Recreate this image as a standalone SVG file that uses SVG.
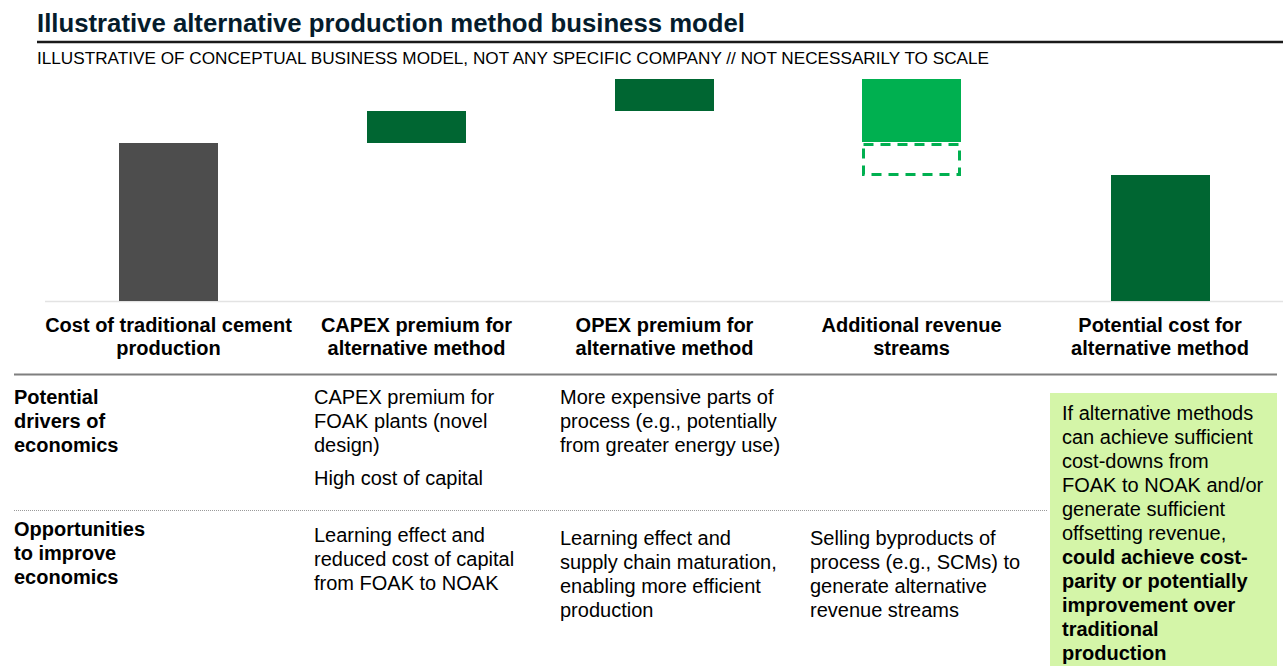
<svg xmlns="http://www.w3.org/2000/svg" width="1283" height="666" viewBox="0 0 1283 666">
<style>
text{font-family:"Liberation Sans",Arial,Helvetica,sans-serif;fill:#000}
.title{font-size:25.7px;font-weight:bold;fill:#051c2c}
.sub{font-size:17px}
.hd{font-size:20px;font-weight:bold;text-anchor:middle}
.rl{font-size:20px;font-weight:bold}
.bd{font-size:20px}
.b{font-weight:bold}
.dk{fill:#006632}
.lt{fill:#00b050}
</style>
<rect width="1283" height="666" fill="#fff"/>
<g id="header">
<text class="title" x="37" y="32" textLength="708" lengthAdjust="spacingAndGlyphs">Illustrative alternative production method business model</text>
<line x1="37" y1="42" x2="1283" y2="42" stroke="#1a1a1a" stroke-width="2.5"/>
<text class="sub" x="37" y="64" textLength="952" lengthAdjust="spacingAndGlyphs">ILLUSTRATIVE OF CONCEPTUAL BUSINESS MODEL, NOT ANY SPECIFIC COMPANY // NOT NECESSARILY TO SCALE</text>
</g>
<g id="chart">
<line x1="45" y1="301.5" x2="1283" y2="301.5" stroke="#e3e3e3" stroke-width="1.5"/>
<g id="bar-traditional"><rect x="119" y="143" width="99" height="158" fill="#4d4d4d"/></g>
<g id="bar-capex"><rect class="dk" x="367" y="111" width="99" height="32"/></g>
<g id="bar-opex"><rect class="dk" x="615" y="79" width="99" height="32"/></g>
<g id="bar-revenue">
<rect class="lt" x="862" y="79" width="99" height="63"/>
<rect x="863.5" y="144.5" width="96" height="30" fill="none" stroke="#00b050" stroke-width="3" stroke-dasharray="10 7"/>
</g>
<g id="bar-potential"><rect class="dk" x="1111" y="175" width="99" height="126"/></g>
</g>
<g id="column-labels">
<text class="hd" x="168.5" y="332">Cost of traditional cement</text>
<text class="hd" x="168.5" y="355">production</text>
<text class="hd" x="416.5" y="332">CAPEX premium for</text>
<text class="hd" x="416.5" y="355">alternative method</text>
<text class="hd" x="664.5" y="332">OPEX premium for</text>
<text class="hd" x="664.5" y="355">alternative method</text>
<text class="hd" x="911.5" y="332">Additional revenue</text>
<text class="hd" x="911.5" y="355">streams</text>
<text class="hd" x="1160" y="332">Potential cost for</text>
<text class="hd" x="1160" y="355">alternative method</text>
</g>
<g id="rules">
<line x1="14" y1="374.5" x2="1277" y2="374.5" stroke="#7f7f7f" stroke-width="2"/>
<line x1="14" y1="510.5" x2="1048" y2="510.5" stroke="#9a9a9a" stroke-width="1" stroke-dasharray="1 1"/>
</g>
<g id="row-drivers">
<text class="rl" x="14" y="404">Potential</text>
<text class="rl" x="14" y="428">drivers of</text>
<text class="rl" x="14" y="452">economics</text>
<text class="bd" x="314" y="404">CAPEX premium for</text>
<text class="bd" x="314" y="428">FOAK plants (novel</text>
<text class="bd" x="314" y="452">design)</text>
<text class="bd" x="314" y="485">High cost of capital</text>
<text class="bd" x="560" y="404">More expensive parts of</text>
<text class="bd" x="560" y="428">process (e.g., potentially</text>
<text class="bd" x="560" y="452">from greater energy use)</text>
</g>
<g id="row-opportunities">
<text class="rl" x="14" y="536">Opportunities</text>
<text class="rl" x="14" y="560">to improve</text>
<text class="rl" x="14" y="584">economics</text>
<text class="bd" x="314" y="542">Learning effect and</text>
<text class="bd" x="314" y="566">reduced cost of capital</text>
<text class="bd" x="314" y="590">from FOAK to NOAK</text>
<text class="bd" x="560" y="545">Learning effect and</text>
<text class="bd" x="560" y="569">supply chain maturation,</text>
<text class="bd" x="560" y="593">enabling more efficient</text>
<text class="bd" x="560" y="617">production</text>
<text class="bd" x="810" y="545">Selling byproducts of</text>
<text class="bd" x="810" y="569">process (e.g., SCMs) to</text>
<text class="bd" x="810" y="593">generate alternative</text>
<text class="bd" x="810" y="617">revenue streams</text>
</g>
<g id="conclusion-box">
<rect x="1050" y="393" width="227" height="273" fill="#d4f5a8"/>
<text class="bd" x="1062" y="420">If alternative methods</text>
<text class="bd" x="1062" y="444">can achieve sufficient</text>
<text class="bd" x="1062" y="468">cost-downs from</text>
<text class="bd" x="1062" y="492">FOAK to NOAK and/or</text>
<text class="bd" x="1062" y="516">generate sufficient</text>
<text class="bd" x="1062" y="540">offsetting revenue,</text>
<text class="bd b" x="1062" y="564">could achieve cost-</text>
<text class="bd b" x="1062" y="588">parity or potentially</text>
<text class="bd b" x="1062" y="612">improvement over</text>
<text class="bd b" x="1062" y="636">traditional</text>
<text class="bd b" x="1062" y="660">production</text>
</g>
</svg>
